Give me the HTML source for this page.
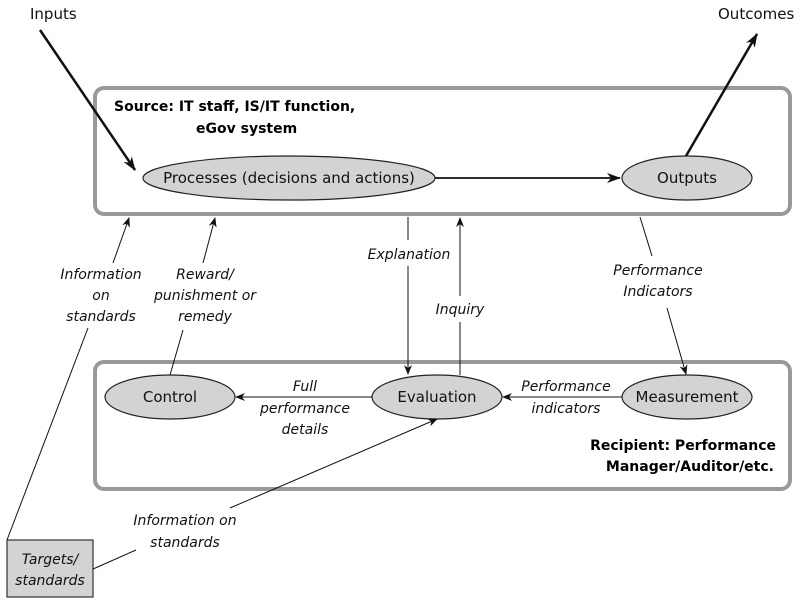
<!DOCTYPE html>
<html><head><meta charset="utf-8"><style>
html,body{margin:0;padding:0;background:#fff;}
svg{display:block;font-family:"DejaVu Sans","Liberation Sans",sans-serif;}
.t{font-size:15px;fill:#111;}
.i{font-size:14px;font-style:italic;fill:#111;}
.b{font-size:14px;font-weight:bold;fill:#000;}
</style></head><body>
<svg width="810" height="603" viewBox="0 0 810 603" xmlns="http://www.w3.org/2000/svg">
<defs>
<marker id="a" markerWidth="10" markerHeight="8" refX="9" refY="4" orient="auto" markerUnits="userSpaceOnUse"><path d="M0,0 L10,4 L0,8 L3,4 z" fill="#111"/></marker>
<marker id="A" markerWidth="14" markerHeight="10" refX="13" refY="5" orient="auto" markerUnits="userSpaceOnUse"><path d="M0,0 L14,5 L0,10 L4,5 z" fill="#111"/></marker>
</defs>
<rect x="95" y="88" width="695" height="126" rx="9" fill="none" stroke="#999" stroke-width="4"/>
<rect x="95" y="362" width="695" height="127" rx="9" fill="none" stroke="#999" stroke-width="4"/>
<rect x="7" y="540" width="86" height="57" fill="#d3d3d3" stroke="#333" stroke-width="1.2"/>
<text class="i" x="50" y="564" text-anchor="middle">Targets/</text>
<text class="i" x="50" y="585" text-anchor="middle">standards</text>

<text class="t" x="30" y="19">Inputs</text>
<text class="t" x="718" y="19">Outcomes</text>
<line x1="40" y1="30" x2="135" y2="170" stroke="#111" stroke-width="2.5" marker-end="url(#A)"/>
<line x1="686" y1="156" x2="757" y2="34" stroke="#111" stroke-width="2.5" marker-end="url(#A)"/>

<text class="b" x="114" y="111">Source: IT staff, IS/IT function,</text>
<text class="b" x="196" y="133">eGov system</text>

<ellipse cx="289" cy="178" rx="146" ry="22" fill="#d3d3d3" stroke="#222" stroke-width="1.2"/>
<text class="t" x="289" y="183" text-anchor="middle">Processes (decisions and actions)</text>
<ellipse cx="687" cy="178" rx="65" ry="22" fill="#d3d3d3" stroke="#222" stroke-width="1.2"/>
<text class="t" x="687" y="183" text-anchor="middle">Outputs</text>
<line x1="435" y1="178" x2="620" y2="178" stroke="#111" stroke-width="1.8" marker-end="url(#A)"/>

<ellipse cx="170" cy="397" rx="65" ry="22" fill="#d3d3d3" stroke="#222" stroke-width="1.2"/>
<text class="t" x="170" y="402" text-anchor="middle">Control</text>
<ellipse cx="437" cy="397" rx="65" ry="22" fill="#d3d3d3" stroke="#222" stroke-width="1.2"/>
<text class="t" x="437" y="402" text-anchor="middle">Evaluation</text>
<ellipse cx="687" cy="397" rx="65" ry="22" fill="#d3d3d3" stroke="#222" stroke-width="1.2"/>
<text class="t" x="687" y="402" text-anchor="middle">Measurement</text>

<line x1="408" y1="217" x2="408" y2="240" stroke="#111" stroke-width="1"/>
<line x1="408" y1="266" x2="408" y2="374" stroke="#111" stroke-width="1" marker-end="url(#a)"/>
<text class="i" x="409" y="259" text-anchor="middle">Explanation</text>
<line x1="460" y1="375" x2="460" y2="322" stroke="#111" stroke-width="1"/>
<line x1="460" y1="296" x2="460" y2="218" stroke="#111" stroke-width="1" marker-end="url(#a)"/>
<text class="i" x="460" y="314" text-anchor="middle">Inquiry</text>
<line x1="640" y1="217" x2="652" y2="256" stroke="#111" stroke-width="1"/>
<line x1="667" y1="308" x2="686" y2="374" stroke="#111" stroke-width="1" marker-end="url(#a)"/>
<text class="i" x="658" y="275" text-anchor="middle">Performance</text>
<text class="i" x="658" y="296" text-anchor="middle">Indicators</text>
<line x1="622" y1="397" x2="503" y2="397" stroke="#111" stroke-width="1" marker-end="url(#a)"/>
<text class="i" x="566" y="391" text-anchor="middle">Performance</text>
<text class="i" x="566" y="413" text-anchor="middle">indicators</text>
<line x1="372" y1="397" x2="236" y2="397" stroke="#111" stroke-width="1" marker-end="url(#a)"/>
<text class="i" x="305" y="391" text-anchor="middle">Full</text>
<text class="i" x="305" y="413" text-anchor="middle">performance</text>
<text class="i" x="305" y="434" text-anchor="middle">details</text>
<line x1="170" y1="375" x2="183" y2="330" stroke="#111" stroke-width="1"/>
<line x1="203" y1="263" x2="215" y2="218" stroke="#111" stroke-width="1" marker-end="url(#a)"/>
<text class="i" x="205" y="279" text-anchor="middle">Reward/</text>
<text class="i" x="205" y="300" text-anchor="middle">punishment or</text>
<text class="i" x="205" y="321" text-anchor="middle">remedy</text>
<line x1="7" y1="540" x2="88" y2="328" stroke="#111" stroke-width="1"/>
<line x1="113" y1="263" x2="129" y2="218" stroke="#111" stroke-width="1" marker-end="url(#a)"/>
<text class="i" x="101" y="279" text-anchor="middle">Information</text>
<text class="i" x="101" y="300" text-anchor="middle">on</text>
<text class="i" x="101" y="321" text-anchor="middle">standards</text>
<line x1="93" y1="569" x2="136" y2="550" stroke="#111" stroke-width="1"/>
<line x1="230" y1="508" x2="437" y2="419" stroke="#111" stroke-width="1" marker-end="url(#a)"/>
<text class="i" x="185" y="525" text-anchor="middle">Information on</text>
<text class="i" x="185" y="547" text-anchor="middle">standards</text>

<text class="b" x="776" y="450" text-anchor="end">Recipient: Performance</text>
<text class="b" x="774" y="471" text-anchor="end">Manager/Auditor/etc.</text>
</svg>
</body></html>
